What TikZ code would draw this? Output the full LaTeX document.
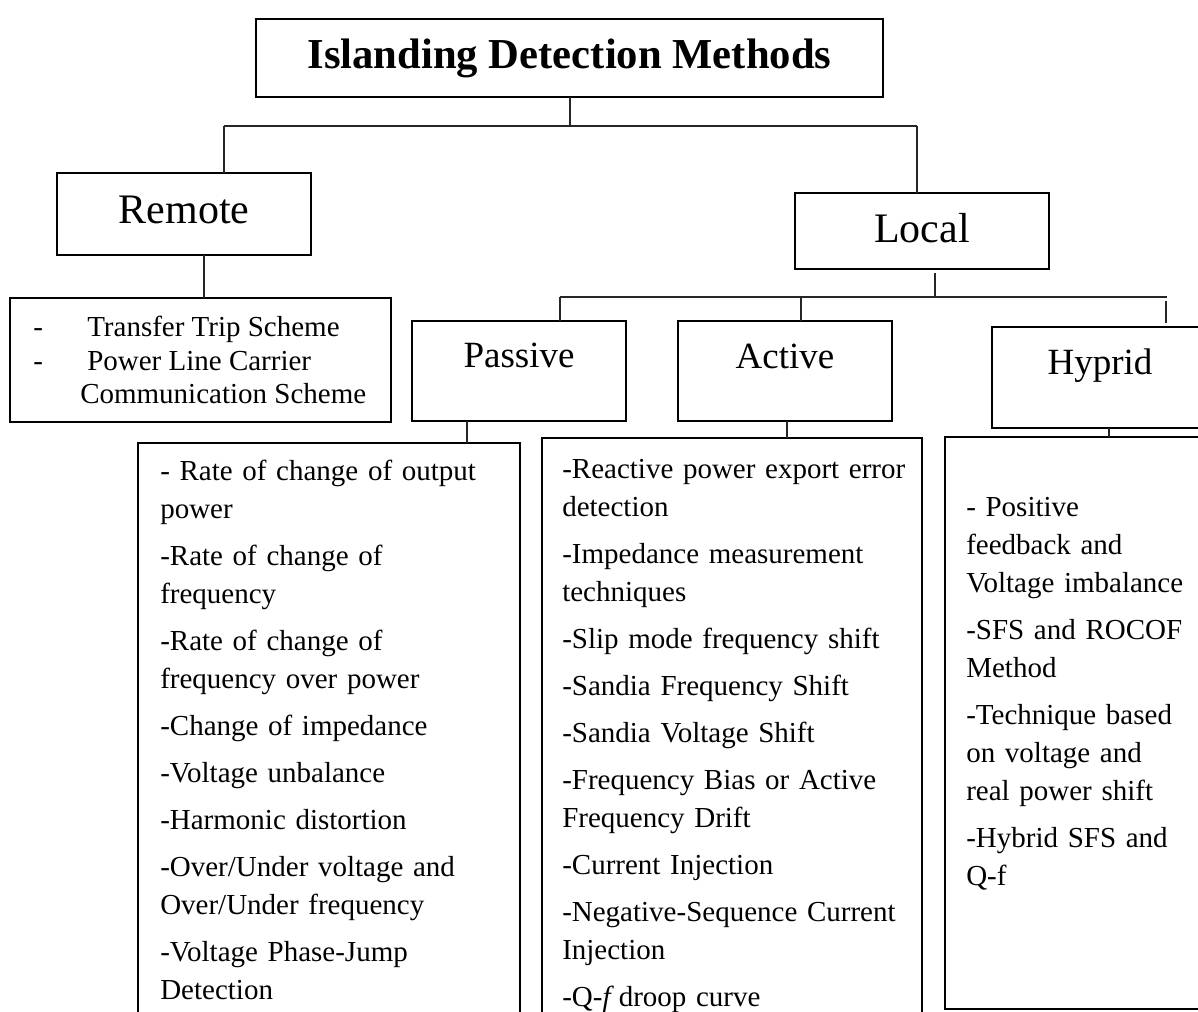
\documentclass[tikz,border=0pt]{standalone}
\usepackage{fontspec}
\setmainfont{Liberation Serif}
\tikzset{
  box/.style={draw=black, line width=1.8pt, inner sep=0pt, outer sep=0pt},
  conn/.style={draw=black!85, line width=0.9pt},
  titletext/.style={inner sep=0pt, anchor=base, font=\bfseries\fontsize{32}{38}\selectfont},
  headtext/.style={inner sep=0pt, anchor=base, font=\fontsize{31.5}{36}\selectfont},
  subtext/.style={inner sep=0pt, anchor=base, font=\fontsize{27.75}{32}\selectfont},
  itemtext/.style={inner sep=0pt, anchor=base west, font=\fontsize{21.75}{28.5}\selectfont},
  listtext/.style={inner sep=0pt, anchor=base west, align=left, font=\fontsize{21.75}{28.5}\selectfont},
}
\newcommand{\mkbox}[5]{\node[box, anchor=north west, minimum width={(#4-#2)*0.75pt}, minimum height={(#5-#3)*0.75pt}] (#1) at (#2,#3) {};}
\newcommand{\gp}{\\[6.75pt]}
\begin{document}
\begin{tikzpicture}[x=0.75pt, y=-0.75pt]
\useasboundingbox (0,0) rectangle (1198,1012);
\clip (0,0) rectangle (1198,1012);

% boxes
\mkbox{title}{256}{19}{883}{97}
\mkbox{remote}{57}{173}{311}{255}
\mkbox{local}{795}{193}{1049}{269}
\mkbox{remotelist}{10}{298}{391}{422}
\mkbox{passive}{412}{321}{626}{421}
\mkbox{active}{678}{321}{892}{421}
\mkbox{hyprid}{992}{327}{1230}{428}
\mkbox{passivelist}{138}{443}{520}{1040}
\mkbox{activelist}{542}{438}{922}{1040}
\mkbox{hybridlist}{945}{437}{1230}{1009}

% box labels
\node[titletext] (titleT) at (569.5,69) {Islanding Detection Methods};
\node[headtext] (remoteT) at (184,224) {Remote};
\node[headtext] (localT) at (922,243) {Local};
\node[subtext] (passiveT) at (519,367) {Passive};
\node[subtext] (activeT) at (785,368) {Active};
\node[subtext] (hypridT) at (1100,374) {Hyprid};

% remote list
\node[itemtext] (rd1) at (33,336) {-};
\node[itemtext] (rd2) at (33,370) {-};
\node[itemtext] (r1) at (87,336) {Transfer Trip Scheme};
\node[itemtext] (r2) at (87,370) {Power Line Carrier};
\node[itemtext] (r3) at (80,403) {Communication Scheme};

% lists
\node[listtext, text width=270pt] (plist) at (160,480) {- Rate of change of output\\ power\gp -Rate of change of\\ frequency\gp -Rate of change of\\ frequency over power\gp -Change of impedance\gp -Voltage unbalance\gp -Harmonic distortion\gp -Over/Under voltage and\\ Over/Under frequency\gp -Voltage Phase-Jump\\ Detection};
\node[listtext, text width=270pt] (alist) at (562,478.5) {-Reactive power export error\\ detection\gp -Impedance measurement\\ techniques\gp -Slip mode frequency shift\gp -Sandia Frequency Shift\gp -Sandia Voltage Shift\gp -Frequency Bias or Active\\ Frequency Drift\gp -Current Injection\gp -Negative-Sequence Current\\ Injection\gp -Q-\textit{f}\,droop curve};
\node[listtext, text width=180pt] (hlist) at (966,516) {- Positive\\ feedback and\\ Voltage imbalance\gp -SFS and ROCOF\\ Method\gp -Technique based\\ on voltage and\\ real power shift\gp -Hybrid SFS and\\ Q-f};

% junction coordinates
\coordinate (jt) at (570,126);
\coordinate (jl) at (224,126);
\coordinate (jr) at (917,126);
\coordinate (xr) at (204,0);
\coordinate (xl) at (935,0);
\coordinate (ll) at (935,273);
\coordinate (jl2) at (560,297);
\coordinate (jr2) at (1167,297);
\coordinate (jla) at (935,297);
\coordinate (xa) at (801,0);
\coordinate (hs1) at (1166,301);
\coordinate (hs2) at (1166,323);
\coordinate (xp) at (467,0);
\coordinate (xac) at (787,0);
\coordinate (xh) at (1109,0);

% connectors
\draw[conn] (title.south -| jt) -- (jt);
\draw[conn] (jl) -- (jr);
\draw[conn] (jl) -- (jl |- remote.north);
\draw[conn] (jr) -- (jr |- local.north);
\draw[conn] (remote.south -| xr) -- (remotelist.north -| xr);
\draw[conn] (ll) -- (jla);
\draw[conn] (jl2) -- (jr2);
\draw[conn] (jl2) -- (jl2 |- passive.north);
\draw[conn] (jl2 -| xa) -- (active.north -| xa);
\draw[conn] (hs1) -- (hs2);
\draw[conn] (passive.south -| xp) -- (passivelist.north -| xp);
\draw[conn] (active.south -| xac) -- (activelist.north -| xac);
\draw[conn] (hyprid.south -| xh) -- (hybridlist.north -| xh);
\end{tikzpicture}
\end{document}
